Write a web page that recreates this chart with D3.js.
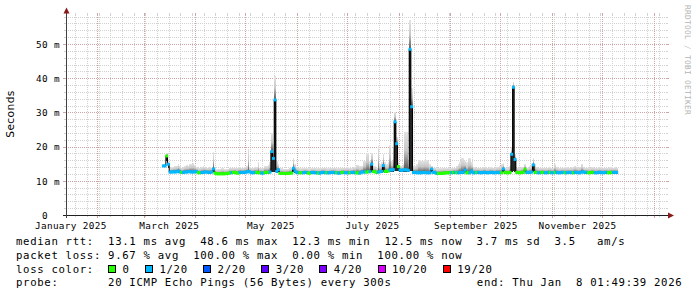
<!DOCTYPE html>
<html>
<head>
<meta charset="utf-8">
<script src="https://d3js.org/d3.v7.min.js"></script>
<style>
html,body{margin:0;padding:0;background:#fff;}
svg{display:block;}
text{white-space:pre;}
</style>
</head>
<body>
<script>
// ---------------- data ----------------
const endTime = "2026-01-08T01:49:39Z";
const spanDays = 360;
const dataStart = "2025-03-12T00:00:00Z";
const stepDays = 1;

// median rtt per day (ms)
const median = [
14.5,14.5,17.4,15.0,12.7,12.7,12.8,12.7,12.8,13.0,
12.7,12.6,12.6,12.7,12.7,12.8,12.8,12.7,12.7,12.8,
12.8,12.5,12.5,12.6,12.6,12.7,12.7,12.6,12.6,12.7,
13.6,12.4,12.2,12.2,12.2,12.2,12.2,12.2,12.3,12.3,
12.5,12.5,12.6,12.6,12.4,12.4,12.6,12.6,12.6,12.6,
12.7,12.9,12.7,12.5,12.5,12.6,12.6,12.5,12.5,12.4,
12.4,12.6,12.6,12.6,12.7,18.7,16.7,33.8,12.9,13.4,
12.3,12.3,12.3,12.3,12.3,12.3,12.4,12.4,13.8,13.0,
12.6,12.5,12.5,12.5,12.5,12.6,12.6,12.4,12.4,12.6,
12.6,12.5,12.5,12.4,12.4,12.6,12.6,12.5,12.5,12.5,
12.5,12.6,12.6,12.5,12.5,12.4,12.4,12.6,12.6,12.5,
12.5,12.5,12.5,12.6,12.6,12.5,12.5,12.4,12.4,12.7,
12.7,12.7,12.7,12.8,12.8,15.0,12.8,12.8,12.6,12.7,
12.8,12.9,14.6,12.9,12.9,13.0,13.3,13.3,13.4,27.4,
21.0,14.3,13.3,13.2,13.3,13.4,13.3,13.2,48.6,31.8,
12.6,12.6,12.5,12.5,12.5,12.5,12.6,12.6,12.5,12.5,
12.5,13.6,12.6,12.6,12.3,12.3,12.3,12.3,12.4,12.4,
12.5,12.5,12.5,12.5,12.6,12.6,12.5,12.5,12.6,12.6,
12.6,13.3,12.5,12.5,12.5,13.0,12.5,12.5,12.6,12.6,
12.5,12.5,12.6,12.6,12.5,12.5,12.6,12.6,12.5,12.5,
12.6,12.6,12.5,12.5,13.6,12.6,12.5,12.5,12.6,17.9,
37.5,16.4,12.6,12.5,12.5,12.6,12.6,13.5,12.6,12.6,
12.6,12.7,14.8,12.6,12.6,12.5,12.5,12.6,12.6,12.5,
12.5,12.6,12.6,12.5,12.5,12.6,12.6,12.5,12.5,12.6,
12.6,12.5,12.5,12.6,12.6,12.5,12.5,12.6,12.6,12.5,
12.5,12.7,12.7,12.6,12.6,12.5,12.5,12.6,12.6,12.5,
12.5,12.6,12.6,12.5,12.5,12.6,12.6,12.5,12.5,12.6,
12.6,12.6,12.6
];
// loss level index per day (0 = no loss, 1 = 1/20 ...)
const loss = [
1,1,0,1,1,1,1,1,1,1,
1,0,1,1,1,1,1,1,1,1,
1,0,0,1,1,1,1,1,1,1,
1,0,0,0,0,0,0,0,0,0,
0,1,0,0,0,0,1,1,1,1,
1,1,1,1,1,1,0,0,0,1,
1,0,0,0,1,1,1,1,1,1,
0,0,0,0,0,0,0,0,1,1,
1,1,0,0,1,1,1,0,0,1,
1,1,1,0,1,1,1,1,0,1,
1,1,1,1,0,1,1,0,0,1,
1,1,0,1,1,1,0,0,1,1,
1,1,0,0,1,1,0,0,0,1,
1,1,1,0,0,0,1,1,1,1,
1,0,1,1,1,1,1,1,1,1,
1,1,1,1,1,1,1,1,1,1,
1,1,1,1,1,0,0,0,0,0,
0,0,0,1,0,1,0,1,1,1,
1,1,0,0,1,1,1,1,0,1,
1,1,1,1,1,1,1,1,1,1,
1,1,1,0,1,0,0,0,0,1,
1,1,0,0,0,0,0,0,1,1,
1,1,1,0,0,1,1,0,0,1,
1,1,0,1,1,0,1,1,1,1,
1,0,1,1,1,1,0,1,1,1,
1,1,1,1,1,0,0,0,0,1,
1,1,1,1,1,1,1,0,0,0,
1,1,1
];
// highest ping of the smoke per day (ms)
const smokeTop = [
15.0,15.0,18.3,15.5,14.0,14.2,14.3,14.5,14.6,15.0,
14.5,14.0,14.3,14.5,14.8,14.6,15.0,15.2,15.3,14.8,
14.2,14.0,14.0,14.2,14.5,14.3,14.0,14.2,14.3,14.0,
18.5,14.0,13.5,13.6,13.6,13.8,13.8,13.6,13.6,13.7,
14.0,14.0,13.9,14.0,14.0,14.2,14.2,14.0,14.0,14.3,
14.5,19.5,14.2,14.0,14.0,14.2,14.2,15.5,14.0,14.0,
14.0,14.5,14.5,14.8,15.5,24.0,21.0,40.8,16.0,15.0,
13.8,13.8,13.6,13.6,13.7,13.7,14.0,14.0,16.8,15.0,
14.2,14.0,13.8,13.8,13.9,13.9,13.8,13.8,13.8,13.8,
13.9,13.9,13.8,13.8,13.9,13.9,14.0,14.0,13.8,13.8,
13.9,13.9,14.0,14.0,13.8,13.8,13.9,13.9,14.0,14.0,
14.1,14.1,13.9,13.9,14.3,14.3,14.8,14.8,14.5,14.5,
16.0,16.0,18.3,18.3,16.0,18.3,14.5,14.5,14.0,20.3,
15.0,15.5,18.0,15.5,15.0,15.5,20.5,16.0,20.0,30.3,
23.0,15.5,14.5,14.5,15.0,24.5,24.5,16.0,57.1,37.2,
14.5,14.5,15.0,16.2,16.2,16.0,16.0,16.2,16.2,16.0,
15.0,14.5,14.0,14.0,13.8,13.8,13.8,13.8,13.9,13.9,
13.8,13.8,13.9,13.9,14.0,14.0,14.5,15.0,15.5,16.8,
16.8,16.0,15.5,16.8,16.8,15.5,14.2,14.2,14.0,14.0,
14.0,14.0,14.2,14.2,14.0,14.0,14.1,14.1,14.0,14.0,
14.2,14.2,14.5,15.0,15.3,14.0,14.0,14.0,14.5,20.0,
39.1,18.0,14.0,14.0,14.0,14.2,14.2,15.0,14.0,14.0,
14.5,15.0,16.7,15.0,14.2,14.0,14.0,14.0,14.0,14.0,
14.0,14.1,14.1,14.0,14.0,15.0,14.2,14.0,14.0,14.0,
14.0,14.1,14.1,14.0,14.0,14.1,14.3,14.5,14.3,14.0,
14.3,15.0,14.3,14.0,14.0,14.0,14.0,14.1,14.1,14.0,
14.0,14.0,14.1,14.1,14.0,14.0,14.0,14.0,14.1,14.1,
14.0,14.1,14.0
];
// lowest ping of the smoke per day (ms)
const smokeLow = [
14.2,14.2,16.0,14.0,12.3,12.3,12.3,12.3,12.4,12.5,
12.3,12.2,12.2,12.3,12.3,12.4,12.4,12.3,12.3,12.4,
12.4,12.2,12.2,12.2,12.2,12.3,12.3,12.2,12.2,12.3,
12.6,12.1,12.0,12.0,12.0,12.0,12.0,12.0,12.1,12.1,
12.2,12.2,12.2,12.2,12.1,12.1,12.2,12.2,12.2,12.2,
12.3,12.4,12.3,12.2,12.2,12.2,12.2,12.2,12.2,12.1,
12.1,12.2,12.2,12.2,12.3,12.6,12.6,12.8,12.5,12.6,
12.0,12.0,12.0,12.0,12.0,12.0,12.1,12.1,12.8,12.5,
12.2,12.2,12.2,12.2,12.2,12.2,12.2,12.1,12.1,12.2,
12.2,12.2,12.2,12.1,12.1,12.2,12.2,12.2,12.2,12.2,
12.2,12.2,12.2,12.2,12.2,12.1,12.1,12.2,12.2,12.2,
12.2,12.2,12.2,12.2,12.2,12.2,12.2,12.1,12.1,12.3,
12.3,12.3,12.3,12.4,12.4,12.8,12.4,12.4,12.2,12.3,
12.4,12.5,12.8,12.5,12.5,12.6,12.6,12.6,12.6,13.0,
13.0,12.9,12.6,12.6,12.6,12.6,12.6,12.6,13.0,13.0,
12.2,12.2,12.2,12.2,12.2,12.2,12.2,12.2,12.2,12.2,
12.2,12.6,12.2,12.2,12.0,12.0,12.0,12.0,12.1,12.1,
12.2,12.2,12.2,12.2,12.2,12.2,12.2,12.2,12.2,12.2,
12.2,12.6,12.2,12.2,12.2,12.5,12.2,12.2,12.2,12.2,
12.2,12.2,12.2,12.2,12.2,12.2,12.2,12.2,12.2,12.2,
12.2,12.2,12.2,12.2,12.6,12.2,12.2,12.2,12.2,12.8,
13.0,12.8,12.2,12.2,12.2,12.2,12.2,12.6,12.2,12.2,
12.2,12.3,12.8,12.2,12.2,12.2,12.2,12.2,12.2,12.2,
12.2,12.2,12.2,12.2,12.2,12.2,12.2,12.2,12.2,12.2,
12.2,12.2,12.2,12.2,12.2,12.2,12.2,12.2,12.2,12.2,
12.2,12.3,12.3,12.2,12.2,12.2,12.2,12.2,12.2,12.2,
12.2,12.2,12.2,12.2,12.2,12.2,12.2,12.2,12.2,12.2,
12.2,12.2,12.2
];

const yMax = 58.48;
const yTickValues = [0, 10, 20, 30, 40, 50];
const yTickLabels = ["0  ", "10 m", "20 m", "30 m", "40 m", "50 m"];
const monthLabelStarts = ["2025-01-01","2025-03-01","2025-05-01","2025-07-01","2025-09-01","2025-11-01"];
const monthLabels = ["January 2025","March 2025","May 2025","July 2025","September 2025","November 2025"];

const lossLevels = ["0","1/20","2/20","3/20","4/20","10/20","19/20"];
const lossColors = ["#26ff00","#00b8ff","#0059ff","#5e00ff","#7e00ff","#dd00ff","#ff0000"];

const statLines = [
  "median rtt:  13.1 ms avg  48.6 ms max  12.3 ms min  12.5 ms now  3.7 ms sd  3.5   am/s",
  "packet loss: 9.67 % avg  100.00 % max  0.00 % min  100.00 % now"
];
const lossColorTitle = "loss color:";
const probeText = "probe:       20 ICMP Echo Pings (56 Bytes) every 300s";
const endText = "end: Thu Jan  8 01:49:39 2026";
const yAxisTitle = "Seconds";
const watermark = "RRDTOOL / TOBI OETIKER";

// ---------------- chart ----------------
const W = 697, H = 297;
const DAY = 864e5;
const svg = d3.select("body").append("svg").attr("width", W).attr("height", H);

const endD = new Date(endTime);
const startD = new Date(endD.getTime() - spanDays * DAY);
const x = d3.scaleUtc().domain([startD, endD]).range([66, 666]);
const y = d3.scaleLinear().domain([0, yMax]).range([215.5, 15.5]);

const MONO = "'DejaVu Sans Mono', 'Liberation Mono', monospace";
const GRID = "#d1d1d1", MGRID = "#cfa6a6";

const defs = svg.append("defs");
const grad = defs.append("linearGradient").attr("id","smoke")
  .attr("x1",0).attr("y1",0).attr("x2",0).attr("y2",1);
grad.append("stop").attr("offset","0%").attr("stop-color","#e4e4e4");
grad.append("stop").attr("offset","50%").attr("stop-color","#c8c8c8");
grad.append("stop").attr("offset","100%").attr("stop-color","#555555");

// grid
const gGrid = svg.append("g").attr("shape-rendering","crispEdges");
const yTop = 15, yBot = 215;
const px = v => Math.floor(v) + 0.5;

const minorV = d3.utcSunday.range(startD, endD);
const majorV = d3.utcMonth.range(startD, endD);
minorV.forEach(d => {
  const xx = px(x(d));
  gGrid.append("line").attr("x1",xx).attr("x2",xx).attr("y1",yTop).attr("y2",yBot)
    .attr("stroke",GRID).attr("stroke-dasharray","1,1");
  gGrid.append("line").attr("x1",xx).attr("x2",xx).attr("y1",yBot).attr("y2",yBot+2).attr("stroke",GRID);
  gGrid.append("line").attr("x1",xx).attr("x2",xx).attr("y1",yTop-2).attr("y2",yTop).attr("stroke",GRID);
});
const minorH = d3.range(2, yMax, 2).filter(v => v % 10 !== 0);
minorH.forEach(v => {
  const yy = px(y(v));
  gGrid.append("line").attr("x1",66).attr("x2",666).attr("y1",yy).attr("y2",yy)
    .attr("stroke",GRID).attr("stroke-dasharray","1,1");
  gGrid.append("line").attr("x1",64).attr("x2",66).attr("y1",yy).attr("y2",yy).attr("stroke",GRID);
  gGrid.append("line").attr("x1",666).attr("x2",668).attr("y1",yy).attr("y2",yy).attr("stroke",GRID);
});
majorV.forEach(d => {
  const xx = px(x(d));
  gGrid.append("line").attr("x1",xx).attr("x2",xx).attr("y1",yTop).attr("y2",yBot)
    .attr("stroke",MGRID).attr("stroke-dasharray","1,1");
  gGrid.append("line").attr("x1",xx).attr("x2",xx).attr("y1",yBot).attr("y2",yBot+3).attr("stroke",MGRID);
  gGrid.append("line").attr("x1",xx).attr("x2",xx).attr("y1",yTop-2).attr("y2",yTop).attr("stroke",MGRID);
});
yTickValues.filter(v => v > 0).forEach(v => {
  const yy = px(y(v));
  gGrid.append("line").attr("x1",66).attr("x2",666).attr("y1",yy).attr("y2",yy)
    .attr("stroke",MGRID).attr("stroke-dasharray","1,1");
  gGrid.append("line").attr("x1",63).attr("x2",66).attr("y1",yy).attr("y2",yy).attr("stroke",MGRID);
  gGrid.append("line").attr("x1",666).attr("x2",669).attr("y1",yy).attr("y2",yy).attr("stroke",MGRID);
});

// data
const t0 = new Date(dataStart).getTime();
const buckets = median.map((m, i) => ({
  x0: x(new Date(t0 + i * stepDays * DAY)),
  x1: x(new Date(t0 + (i + 1) * stepDays * DAY)),
  m, top: smokeTop[i], low: smokeLow[i], loss: loss[i]
}));

const gSmoke = svg.append("g").attr("shape-rendering","crispEdges");
gSmoke.selectAll("rect.s").data(buckets).join("rect").attr("class","s")
  .attr("x", d => d.x0).attr("width", d => d.x1 - d.x0 + 0.05)
  .attr("y", d => y(d.top)).attr("height", d => Math.max(0.01, y(d.m) - y(d.top)))
  .attr("fill","url(#smoke)");
gSmoke.selectAll("rect.c").data(buckets).join("rect").attr("class","c")
  .attr("x", d => d.x0).attr("width", d => d.x1 - d.x0)
  .attr("y", d => y(d.m)).attr("height", d => Math.max(0, y(d.low) - y(d.m)))
  .attr("fill","#262626");

const stepPts = buckets.map(d => [d.x0, y(d.m)]);
const last = buckets[buckets.length - 1];
stepPts.push([last.x1, y(last.m)]);
svg.append("path").attr("d", d3.line().curve(d3.curveStepAfter)(stepPts))
  .attr("fill","none").attr("stroke","#000").attr("stroke-width",1);

svg.append("g").selectAll("line").data(buckets).join("line")
  .attr("x1", d => d.x0 - 0.65).attr("x2", d => d.x1 + 0.65)
  .attr("y1", d => y(d.m)).attr("y2", d => y(d.m))
  .attr("stroke", d => lossColors[d.loss]).attr("stroke-width",3);

// axes
const gAx = svg.append("g").attr("shape-rendering","crispEdges");
gAx.append("line").attr("x1",63).attr("x2",670).attr("y1",215.5).attr("y2",215.5).attr("stroke","#202020");
gAx.append("line").attr("x1",66.5).attr("x2",66.5).attr("y1",11).attr("y2",218).attr("stroke","#404040");
svg.append("path").attr("d","M63.5,13.5L69.5,13.5L66.5,7.5Z").attr("fill","#8b1a1a");
svg.append("path").attr("d","M668,212.5L668,218.5L674,215.5Z").attr("fill","#8b1a1a");

// y tick labels
svg.append("g").selectAll("text").data(yTickValues).join("text")
  .attr("x", (v,i) => 60 - yTickLabels[i].length * 6)
  .attr("y", v => y(v) + 3.3)
  .attr("font-family", MONO).attr("font-size","9.33px").attr("letter-spacing","0.38px")
  .attr("fill","#000").text((v,i) => yTickLabels[i]);

// x labels (rrdtool puts them half a month after the month start)
svg.append("g").selectAll("text").data(monthLabelStarts).join("text")
  .attr("x", d => x(new Date(new Date(d + "T00:00:00Z").getTime() + 15 * DAY)))
  .attr("y", 228.5).attr("text-anchor","middle")
  .attr("font-family", MONO).attr("font-size","9.33px").attr("letter-spacing","0.38px")
  .attr("fill","#000").text((d,i) => monthLabels[i]);

// y axis title
svg.append("text").attr("transform","translate(14,114) rotate(-90)")
  .attr("text-anchor","middle").attr("font-family","'DejaVu Sans', sans-serif")
  .attr("font-size","10.67px").attr("letter-spacing","0.4px").attr("fill","#000").text(yAxisTitle);

// watermark
svg.append("text").attr("transform","translate(685,5) rotate(90)")
  .attr("font-family", MONO).attr("font-size","7.8px").attr("letter-spacing","0.3px")
  .attr("fill","#b4b4b4").text(watermark);

// legend
const LF = { "font-family": MONO, "font-size": "10.67px", "letter-spacing": "0.67px", "fill": "#000" };
const CW = 7.09;
const rowY = [245.3, 259, 272.7, 286.3];
function txt(s, xx, yy) {
  const t = svg.append("text").attr("x", xx).attr("y", yy).text(s);
  Object.entries(LF).forEach(([k, v]) => t.attr(k, v));
  return t;
}
statLines.forEach((s, i) => txt(s, 16, rowY[i]));
txt(lossColorTitle, 16, rowY[2]);
let bx = 108.5;
lossLevels.forEach((lab, i) => {
  svg.append("rect").attr("x", bx).attr("y", 265.5).attr("width", 7).attr("height", 7)
    .attr("fill", lossColors[i]).attr("stroke","#000").attr("stroke-width",1)
    .attr("shape-rendering","crispEdges");
  txt(lab, bx + 14, rowY[2]);
  bx = bx + 14 + lab.length * CW + 15.8;
});
txt(probeText, 16, rowY[3]);
txt(endText, 16 + 65 * CW, rowY[3]);
</script>
</body>
</html>
